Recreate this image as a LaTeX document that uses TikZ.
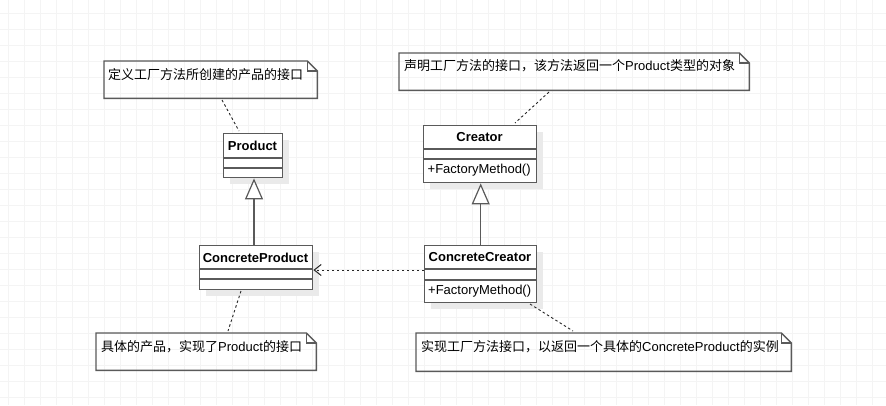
\documentclass[tikz,border=0pt]{standalone}
\usepackage{fontspec}
\setmainfont{Liberation Sans}
\newfontfamily\cjk{Noto Sans CJK SC}
\usetikzlibrary{arrows.meta,calc,shadows}
\definecolor{linec}{HTML}{5A5A5A}
\definecolor{gridc}{HTML}{F4F4F4}
\definecolor{shadowc}{HTML}{EAEAEA}
\begin{document}
\begin{tikzpicture}[x=1pt,y=-1pt,
  classbox/.style={draw=linec, line width=1.4pt, fill=white, inner sep=0pt, anchor=north west,
     drop shadow={shadow xshift=6pt, shadow yshift=-6pt, fill=shadowc, opacity=1}},
  cline/.style={draw=linec, line width=1.4pt},
  cname/.style={font=\fontsize{13}{15}\selectfont\bfseries, inner sep=0pt},
  cmeth/.style={font=\fontsize{13}{15}\selectfont, inner sep=0pt, anchor=west},
  noteshape/.style={inner sep=0pt, anchor=north west},
  notetext/.style={font=\fontsize{13}{15}\selectfont, inner sep=0pt, anchor=west},
  dashc/.style={draw=black!85, line width=0.9pt, dash pattern=on 2.5pt off 2.5pt},
  inherit/.style={cline, -{Triangle[width=18pt,length=21pt,line width=1.2pt,fill=white]}},
]
\useasboundingbox (0,0) rectangle (886,405);
\fill[white] (0,0) rectangle (886,405);
\foreach \x in {8,24,...,880} \draw[gridc, line width=0.7pt] (\x,0) -- (\x,405);
\foreach \y in {13,29,...,397} \draw[gridc, line width=0.7pt] (0,\y) -- (886,\y);

% ---- notes
\newcommand\mynote[1]{%
  \draw[cline] (#1.south west) -- (#1.north west) -- ($(#1.north east)+(-10,0)$)
     -- ($(#1.north east)+(0,10)$) -- (#1.south east) -- cycle;
  \draw[cline, line width=1.1pt] ($(#1.north east)+(-10,0)$) -- ($(#1.north east)+(-10,10)$) -- ($(#1.north east)+(0,10)$);
}
\node[noteshape, minimum width=213pt, minimum height=37pt] (note1) at (104,61) {};
\node[noteshape, minimum width=350pt, minimum height=37pt] (note2) at (399,53) {};
\node[noteshape, minimum width=220pt, minimum height=37pt] (note3) at (96,333) {};
\node[noteshape, minimum width=375pt, minimum height=38pt] (note4) at (416,333) {};
\mynote{note1}\mynote{note2}\mynote{note3}\mynote{note4}
\node[notetext] (t1) at (108,74.5) {\cjk 定义工厂方法所创建的产品的接口};
\node[notetext] (t2) at (404,66) {{\cjk 声明工厂方法的接口，该方法返回一个}Product{\cjk 类型的对象}};
\node[notetext] (t3) at (101,346.5) {{\cjk 具体的产品，实现了}Product{\cjk 的接口}};
\node[notetext] (t4) at (421,346.5) {{\cjk 实现工厂方法接口，以返回一个具体的}ConcreteProduct{\cjk 的实例}};

% ---- classes
\node[classbox, minimum width=59pt, minimum height=44pt] (product) at (223,133) {};
\draw[cline] (product.west |- 0,158) -- (product.east |- 0,158);
\draw[cline] (product.west |- 0,168) -- (product.east |- 0,168);
\node[cname] (productname) at (252.5,146) {Product};

\node[classbox, minimum width=113pt, minimum height=57pt] (creator) at (423,125) {};
\draw[cline] (creator.west |- 0,149) -- (creator.east |- 0,149);
\draw[cline] (creator.west |- 0,159) -- (creator.east |- 0,159);
\node[cname] (creatorname) at (479.5,137.5) {Creator};
\node[cmeth] (creatorm) at (427.5,170.5) {+FactoryMethod()};

\node[classbox, minimum width=113pt, minimum height=44pt] (cproduct) at (199,245) {};
\draw[cline] (cproduct.west |- 0,269) -- (cproduct.east |- 0,269);
\draw[cline] (cproduct.west |- 0,279) -- (cproduct.east |- 0,279);
\node[cname] (cproductname) at (255.5,257.5) {ConcreteProduct};

\node[classbox, minimum width=112pt, minimum height=57pt] (ccreator) at (424,245) {};
\draw[cline] (ccreator.west |- 0,269) -- (ccreator.east |- 0,269);
\draw[cline] (ccreator.west |- 0,280) -- (ccreator.east |- 0,280);
\node[cname] (ccreatorname) at (480,257.5) {ConcreteCreator};
\node[cmeth] (ccreatorm) at (428,291.5) {+FactoryMethod()};

% ---- relations
\draw[inherit] (cproduct.north -| 254,0) -- (product.south -| 254,0);
\draw[inherit] (ccreator.north) -- (ccreator.north |- creator.south);
\draw[dashc, -{Straight Barb[length=7pt,width=11pt,line width=1pt]}] (ccreator.west |- 0,270) -- (cproduct.east |- 0,270);

% ---- note connectors
\coordinate (c1a) at (222,100); \coordinate (c1b) at (239,131);
\coordinate (c2a) at (549,92);  \coordinate (c2b) at (515,123);
\coordinate (c3a) at (241,291); \coordinate (c3b) at (228,331);
\coordinate (c4a) at (530,304); \coordinate (c4b) at (573,331);
\draw[dashc] (c1a) -- (c1b);
\draw[dashc] (c2a) -- (c2b);
\draw[dashc] (c3a) -- (c3b);
\draw[dashc] (c4a) -- (c4b);
\end{tikzpicture}
\end{document}
